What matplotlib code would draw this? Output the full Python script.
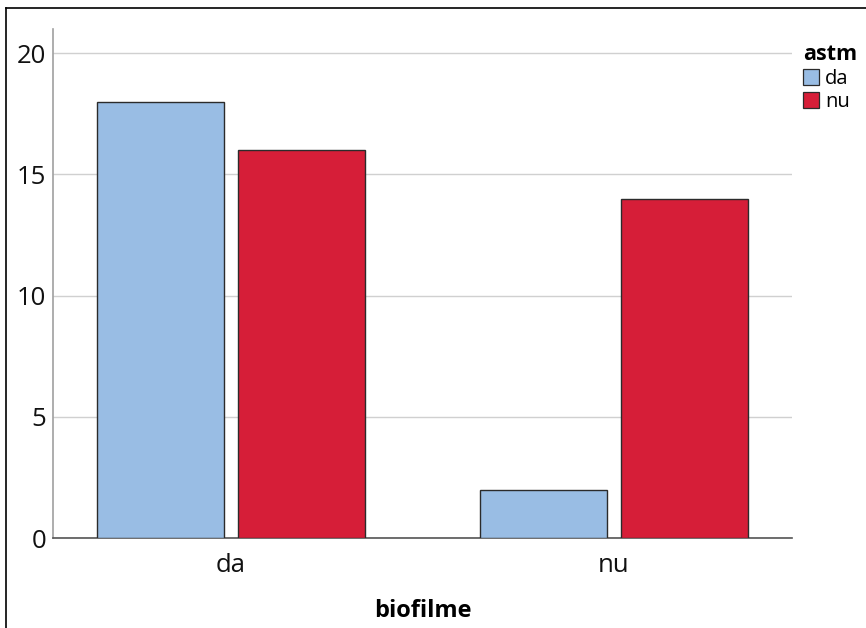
import matplotlib
matplotlib.use('Agg')
import matplotlib.pyplot as plt
import numpy as np
from matplotlib.lines import Line2D
from matplotlib.patches import Patch

plt.rcParams['font.family'] = ['Open Sans', 'DejaVu Sans']

# 데이터
biofilme = ['da', 'nu']
astm_da = [18, 2]
astm_nu = [16, 14]
y_ticks = [0, 5, 10, 15, 20]

blue = '#99bde4'
red = '#d61e38'
edge = '#2b2b2b'

fig = plt.figure(figsize=(8.66, 6.28), dpi=100)
ax = fig.add_axes([53/866, 90/628, 739/866, 509/628])

x = np.arange(len(biofilme))
w = 0.332
ax.bar(x - 0.184, astm_da, w, color=blue, edgecolor=edge, linewidth=1.0, zorder=3)
ax.bar(x + 0.185, astm_nu, w, color=red, edgecolor=edge, linewidth=1.0, zorder=3)

ax.set_xlim(-0.465, 1.465)
ax.set_ylim(0, 21)
ax.set_yticks(y_ticks)
ax.set_xticks(x)
ax.set_xticklabels(biofilme)
ax.tick_params(axis='both', length=0, labelsize=18.5, colors='#111111')
ax.tick_params(axis='y', pad=5)
ax.tick_params(axis='x', pad=11)
ax.yaxis.grid(True, color='#d0d0d0', linewidth=1.0, zorder=0)

for s in ['top', 'right']:
    ax.spines[s].set_visible(False)
ax.spines['left'].set_color('#a0a0a0')
ax.spines['bottom'].set_color('#555555')
ax.spines['left'].set_linewidth(1.2)
ax.spines['bottom'].set_linewidth(1.2)

ax.set_xlabel('biofilme', fontsize=17, fontweight='bold', labelpad=15)

# 범례
leg = fig.legend(handles=[Patch(facecolor=blue, edgecolor=edge, linewidth=0.9, label='da'),
                          Patch(facecolor=red, edgecolor=edge, linewidth=0.9, label='nu')],
                 title='astm', loc='upper left', bbox_to_anchor=(803/866, 1 - 44/628),
                 frameon=False, fontsize=14.5, title_fontsize=15.5,
                 handlelength=0.8, handleheight=0.8, handletextpad=0.3,
                 labelspacing=0.15, borderpad=0, borderaxespad=0)
leg.get_title().set_fontweight('bold')
leg._legend_box.align = 'left'
leg._legend_box.sep = 3

# 외곽선
fig.add_artist(Line2D([6/866, 6/866], [0, 1 - 8/628], color='black', linewidth=1.2))
fig.add_artist(Line2D([6/866, 1], [1 - 8/628, 1 - 8/628], color='black', linewidth=1.2))

fig.savefig('out.png', dpi=100)
